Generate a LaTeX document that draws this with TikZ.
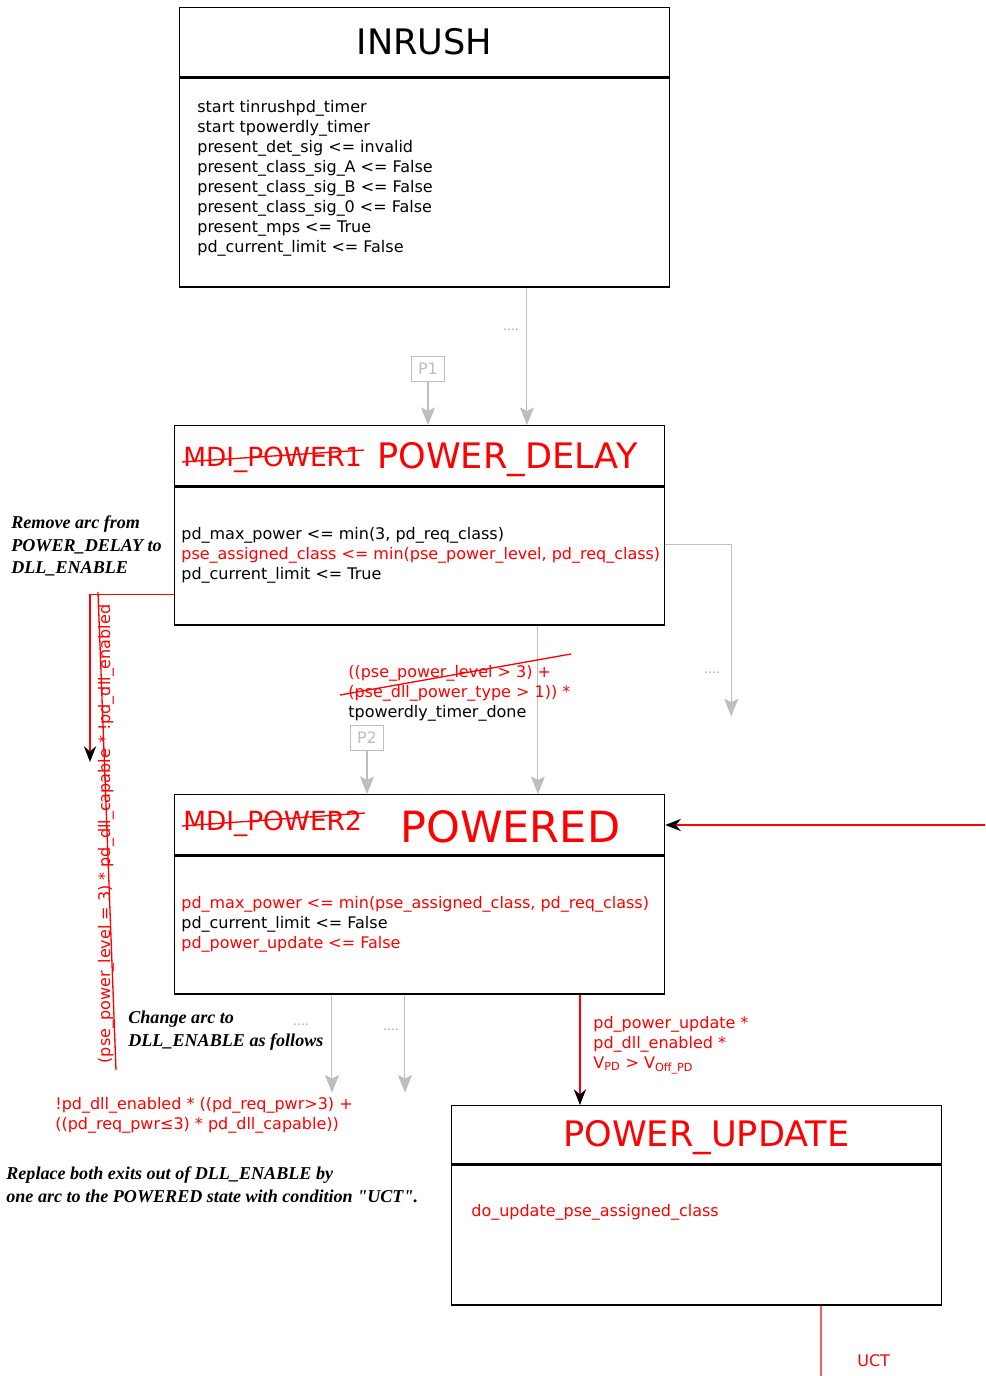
\documentclass[tikz,border=0pt]{standalone}
\usepackage{fontspec}
\setmainfont{DejaVu Sans}
\newfontfamily\notefont{Liberation Serif}
\usetikzlibrary{arrows.meta,positioning,calc}
\definecolor{arcgray}{RGB}{190,190,190}

\begin{document}
\begin{tikzpicture}[x=0.02cm,y=-0.02cm,
	statebox/.style={draw,line width=0.75pt,minimum width=9.8cm,inner sep=0pt,anchor=north west},
	bodytext/.style={font=\fontsize{9.1}{11.4}\selectfont,align=left,anchor=west,inner sep=0pt},
	bigname/.style={font=\fontsize{20}{24}\selectfont},
	oldname/.style={text=red,font=\fontsize{15}{18}\selectfont,inner sep=0pt,anchor=base west},
	cond/.style={font=\fontsize{9.1}{11.4}\selectfont,align=left,anchor=west,inner sep=0pt},
	note/.style={font=\notefont\bfseries\itshape\fontsize{10.3}{13}\selectfont,align=left,anchor=west,inner sep=0pt},
	dots/.style={text=arcgray!85!black,font=\fontsize{7}{8}\selectfont,inner sep=0pt},
	tagbox/.style={draw=arcgray,text=arcgray,line width=0.6pt,font=\fontsize{9}{10}\selectfont,minimum width=0.66cm,minimum height=0.5cm,inner sep=0pt},
	grayarc/.style={draw=arcgray,line width=0.6pt,-{Stealth[length=10pt,width=8pt,inset=2pt]}},
	redarc/.style={draw=red,line width=0.75pt,-{Stealth[black,length=9pt,width=7pt,inset=3pt]}},
	redline/.style={draw=red,line width=0.75pt}]

	\useasboundingbox (0,0) rectangle (985,1376);

	% INRUSH
	\node[statebox,minimum height=1.38cm,bigname] (inrush) at (179,7) {INRUSH};
	\node[statebox,minimum height=4.18cm] (inrushbody) at (inrush.south west) {};
	\node[bodytext] (inrushtext) at ($(inrushbody.west)+(18,-4.5)$) {start tinrushpd\_timer\\
		start tpowerdly\_timer\\
		present\_det\_sig <= invalid\\
		present\_class\_sig\_A <= False\\
		present\_class\_sig\_B <= False\\
		present\_class\_sig\_0 <= False\\
		present\_mps <= True\\
		pd\_current\_limit <= False};

	% POWER_DELAY
	\node[statebox,minimum height=1.2cm] (pdtitle) at (174,425) {};
	\node[statebox,minimum height=2.76cm] (pdbody) at (pdtitle.south west) {};
	\node[oldname] (pdold) at (183,466) {MDI\_POWER1};
	\node[bigname,text=red,inner sep=0pt,anchor=base west] (pdname) at (377,468) {POWER\_DELAY};
	\draw[redline] (182,462) -- (364,450);
	\node[bodytext] (pdtext) at ($(pdbody.west)+(7,-1)$) {pd\_max\_power <= min(3, pd\_req\_class)\\
		\textcolor{red}{pse\_assigned\_class <= min(pse\_power\_level, pd\_req\_class)}\\
		pd\_current\_limit <= True};

	% POWERED
	\node[statebox,minimum height=1.2cm] (pwtitle) at (174,794) {};
	\node[statebox,minimum height=2.76cm] (pwbody) at (pwtitle.south west) {};
	\node[oldname] (pwold) at (183,830) {MDI\_POWER2};
	\node[text=red,font=\fontsize{24.5}{28}\selectfont,inner sep=0pt,anchor=base west] (pwname) at (400,842) {POWERED};
	\draw[redline] (182,826) -- (365,813);
	\node[bodytext] (pwtext) at ($(pwbody.west)+(7,-1)$) {\textcolor{red}{pd\_max\_power <= min(pse\_assigned\_class, pd\_req\_class)}\\
		pd\_current\_limit <= False\\
		\textcolor{red}{pd\_power\_update <= False}};

	% POWER_UPDATE
	\node[statebox,minimum height=1.16cm] (putitle) at (451,1105) {};
	\node[bigname,text=red,inner sep=0pt,anchor=base west] (puname) at (563,1146) {POWER\_UPDATE};
	\node[statebox,minimum height=2.8cm] (pubody) at (putitle.south west) {};
	\node[bodytext,text=red] (putext) at ($(pubody.west)+(20,-23)$) {do\_update\_pse\_assigned\_class};

	% gray arcs
	\coordinate (inrushout) at ([xshift=6.96cm]inrushbody.south west);
	\draw[grayarc] (inrushout) -- (inrushout |- pdtitle.north);
	\node[dots] (dotsa) at (511,330) {....};
	\node[tagbox] (p1) at (428,369) {P1};
	\draw[grayarc] (p1) -- (p1 |- pdtitle.north);

	\draw[grayarc] ([yshift=-1.16cm]pdbody.north east) -| ++(66,172);
	\node[dots] (dotsb) at (712,673) {....};

	\coordinate (pdout) at ([xshift=7.28cm]pdbody.south west);
	\draw[grayarc] (pdout) -- (pdout |- pwtitle.north);
	\node[tagbox] (p2) at (367,738) {P2};
	\draw[grayarc] (p2) -- (p2 |- pwtitle.north);

	\draw[grayarc] ([xshift=3.16cm]pwbody.south west) -- ++(0,98);
	\draw[grayarc] ([xshift=4.62cm]pwbody.south west) -- ++(0,98);
	\node[dots] (dotsc) at (301,1025) {....};
	\node[dots] (dotsd) at (391,1030) {....};

	% condition POWER_DELAY -> POWERED
	\node[cond] (pdcond) at (348,693) {\textcolor{red}{((pse\_power\_level > 3) +}\\
		\textcolor{red}{(pse\_dll\_power\_type > 1)) *}\\
		tpowerdly\_timer\_done};
	\draw[redline] (340,695) -- (571,654);

	% red arcs
	\coordinate (pwout) at ([xshift=8.12cm]pwbody.south west);
	\draw[redarc] (pwout) -- (pwout |- putitle.north);
	\node[cond,text=red] (pucond) at (593,1045) {pd\_power\_update *\\
		pd\_dll\_enabled *\\
		V\textsubscript{PD} > V\textsubscript{Off\_PD}};

	\coordinate (uctin) at (985,825);
	\draw[redarc] (uctin) -- (uctin -| pwtitle.east);

	\coordinate (puout) at ([xshift=7.4cm]pubody.south west);
	\coordinate (uctend) at (821,1376);
	\draw[redline] (puout) -- (uctend);
	\node[cond,text=red] (uct) at (857,1361) {UCT};

	% removed arc to DLL_ENABLE
	\coordinate (dllin) at (90,762);
	\draw[redarc] ([yshift=0.62cm]pdbody.south west) -| (dllin);
	\node[cond,text=red,anchor=center,rotate=90] (oldcond) at (106,834) {(pse\_power\_level = 3) * pd\_dll\_capable * !pd\_dll\_enabled};
	\draw[redline] (98,592) -- (116,1070);

	\node[cond,text=red] (newcond) at (55,1115) {!pd\_dll\_enabled * ((pd\_req\_pwr>3) +\\
		((pd\_req\_pwr≤3) * pd\_dll\_capable))};

	% notes
	\node[note] (noteremove) at (11,546) {Remove arc from\\POWER\_DELAY to\\DLL\_ENABLE};
	\node[note] (notechange) at (128,1031) {Change arc to\\DLL\_ENABLE as follows};
	\node[note] (notereplace) at (6,1185) {Replace both exits out of DLL\_ENABLE by\\one arc to the POWERED state with condition "UCT".};
\end{tikzpicture}
\end{document}
